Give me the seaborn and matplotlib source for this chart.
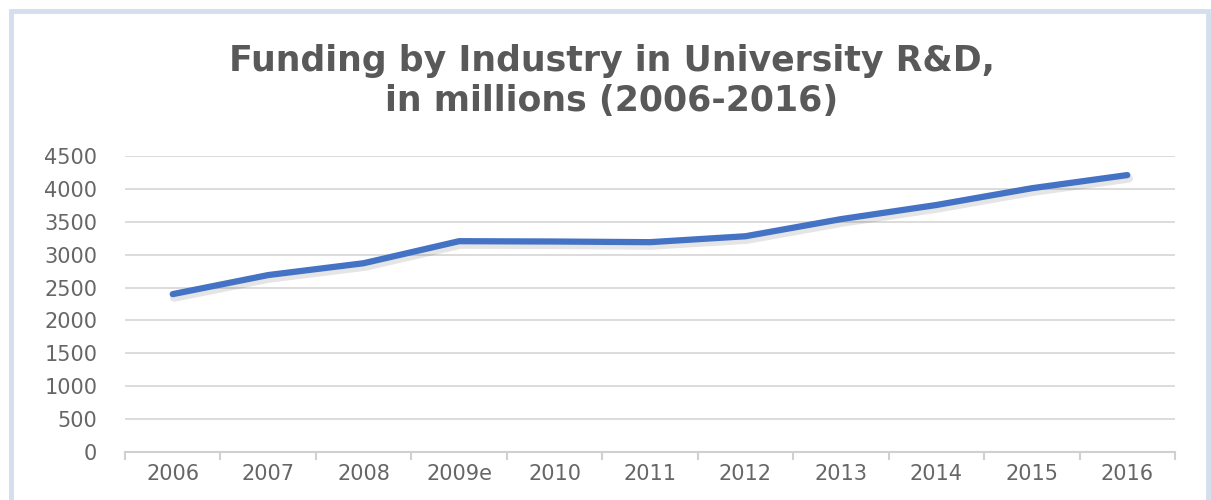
import pandas as pd
import matplotlib.pyplot as plt
import matplotlib.patheffects as pe
from matplotlib.patches import Rectangle
from matplotlib.ticker import FixedLocator
import seaborn as sns

sns.set_theme(style="white")
plt.rcParams["font.family"] = ["DejaVu Sans"]

# data
years = ["2006", "2007", "2008", "2009e", "2010", "2011", "2012", "2013", "2014", "2015", "2016"]
funding = [2400, 2690, 2870, 3205, 3200, 3190, 3280, 3540, 3755, 4010, 4210]
y_ticks = [0, 500, 1000, 1500, 2000, 2500, 3000, 3500, 4000, 4500]

df = pd.DataFrame({"year": years, "funding": funding})

fig = plt.figure(figsize=(12.11, 5), dpi=100)
ax = fig.add_axes([125 / 1211, 48 / 500, 1050 / 1211, 296 / 500])

sns.lineplot(data=df, x="year", y="funding", ax=ax, color="#4472C4", linewidth=4.5,
             solid_capstyle="round", solid_joinstyle="round")
ax.lines[0].set_path_effects([
    pe.SimpleLineShadow(offset=(1, -2.5), shadow_color="black", alpha=0.1, linewidth=6),
    pe.Normal(),
])

ax.set_xlim(-0.5, len(years) - 0.5)
ax.set_ylim(0, 4500)
ax.set_yticks(y_ticks)
ax.yaxis.grid(True, color="#d9d9d9", linewidth=1.3)
ax.set_axisbelow(True)
ax.set_xlabel("")
ax.set_ylabel("")

for s in ["left", "right", "top"]:
    ax.spines[s].set_visible(False)
ax.spines["bottom"].set_color("#d0d0d0")
ax.spines["bottom"].set_linewidth(1.5)

ax.xaxis.set_minor_locator(FixedLocator([i - 0.5 for i in range(len(years) + 1)]))
ax.tick_params(axis="x", which="major", length=0, pad=9, labelsize=15, labelcolor="#666666")
ax.tick_params(axis="x", which="minor", length=6, width=1.5, color="#d0d0d0", direction="out", bottom=True)
ax.tick_params(axis="y", length=0, pad=20, labelsize=15, labelcolor="#666666")

fig.text(0.505, 0.838, "Funding by Industry in University R&D,\nin millions (2006-2016)",
         ha="center", va="center", fontsize=25, fontweight="bold", color="#595959",
         linespacing=1.25)

# outer chart frame
fig.patches.append(Rectangle((11 / 1211, -0.05), 1197 / 1211, (489 / 500) + 0.05,
                             transform=fig.transFigure, fill=False,
                             edgecolor="#d5deee", linewidth=3.5))

fig.savefig("out.png", dpi=100)
